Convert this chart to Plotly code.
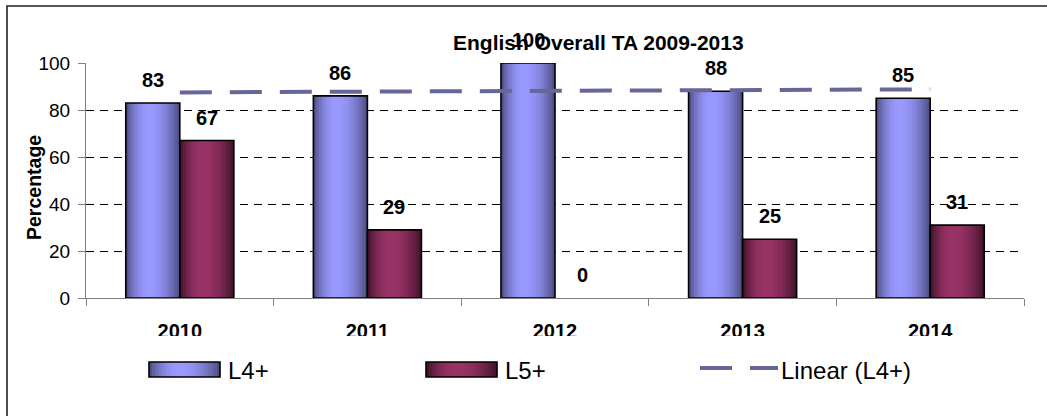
import math
import plotly.graph_objects as go

# ---------------- data ----------------
years = ["2010", "2011", "2012", "2013", "2014"]
l4_values = [83, 86, 100, 88, 85]
l5_values = [67, 29, 0, 25, 31]
trend_years = ["2010", "2014"]
trend_values = [87.5, 88.8]
series_names = ["L4+", "L5+", "Linear (L4+)"]
y_ticks = [0, 20, 40, 60, 80, 100]

# ---------------- layout constants ----------------
W, H = 1047, 416
L, R, T, B = 86, 1024, 63, 298
FONT = "Liberation Sans, Arial, sans-serif"
BAR_W = 0.288
NSLICE = 20


def px(x):
    return (x - L) / (R - L)


def py(y):
    return (B - y) / (B - T)


def grad_color(t, light, dark, peak=0.42):
    d = (peak - t) / peak if t < peak else (t - peak) / (1 - peak)
    g = math.cos(math.pi / 2 * min(d, 1.0)) ** 0.8
    c = [dark[k] + (light[k] - dark[k]) * g for k in range(3)]
    return "rgb(%d,%d,%d)" % tuple(int(round(v)) for v in c)


L4_LIGHT, L4_DARK = (153, 153, 255), (70, 70, 118)
L5_LIGHT, L5_DARK = (153, 51, 102), (58, 16, 38)

fig = go.Figure()

for vals, off0, light, dark in [
    (l4_values, -BAR_W, L4_LIGHT, L4_DARK),
    (l5_values, 0.0, L5_LIGHT, L5_DARK),
]:
    dw = BAR_W / NSLICE
    for i in range(NSLICE):
        t = (i + 0.5) / NSLICE
        fig.add_trace(go.Bar(
            x=years, y=vals,
            offset=off0 + i * dw, width=BAR_W - i * dw,
            marker=dict(color=grad_color(t, light, dark), line=dict(width=0)),
            showlegend=False, hoverinfo="skip",
        ))
    fig.add_trace(go.Bar(
        x=years, y=vals, offset=off0, width=BAR_W,
        marker=dict(color="rgba(0,0,0,0)",
                    line=dict(color="black", width=[1.6 if v > 0 else 0 for v in vals])),
        showlegend=False, hoverinfo="skip",
    ))

fig.add_trace(go.Scatter(
    x=trend_years, y=trend_values, mode="lines",
    line=dict(color="#666699", width=4, dash="32px,18px"),
    showlegend=False, hoverinfo="skip",
))

annotations = []
for vals, xs in [(l4_values, -27), (l5_values, 27)]:
    for idx, v in enumerate(vals):
        annotations.append(dict(
            x=idx, y=v, xref="x", yref="y", text=str(v), showarrow=False,
            xshift=xs, yshift=23, yanchor="middle",
            font=dict(family=FONT, size=20, color="black", weight="bold"),
        ))

annotations.append(dict(
    x=px(598), y=py(42), xref="paper", yref="paper",
    text="English Overall TA 2009-2013", showarrow=False,
    xanchor="center", yanchor="middle",
    font=dict(family=FONT, size=21, color="black", weight="bold"),
))
annotations.append(dict(
    x=px(34), y=py(188), xref="paper", yref="paper", text="Percentage",
    showarrow=False, textangle=-90, xanchor="center", yanchor="middle",
    font=dict(family=FONT, size=19.5, color="black", weight="bold"),
))

shapes = []
# outer frame
shapes.append(dict(type="rect", xref="paper", yref="paper",
                   x0=px(7), x1=px(1070), y0=py(6), y1=py(440),
                   line=dict(color="#222222", width=1.6), layer="below"))
# cover lower part of category labels (clipped in reference)
shapes.append(dict(type="rect", xref="paper", yref="paper",
                   x0=px(60), x1=px(1040), y0=py(352), y1=py(336),
                   fillcolor="white", line=dict(width=0), layer="above"))

# legend swatches
for (x0, x1), light, dark, name in [((149, 220), L4_LIGHT, L4_DARK, series_names[0]),
                                    ((426, 497), L5_LIGHT, L5_DARK, series_names[1])]:
    n = 24
    for i in range(n):
        t = (i + 0.5) / n
        sx0 = x0 + (x1 - x0) * i / n
        shapes.append(dict(type="rect", xref="paper", yref="paper",
                           x0=px(sx0), x1=px(x1), y0=py(377), y1=py(362),
                           fillcolor=grad_color(t, light, dark),
                           line=dict(width=0), layer="above"))
    shapes.append(dict(type="rect", xref="paper", yref="paper",
                       x0=px(x0), x1=px(x1), y0=py(377), y1=py(362),
                       line=dict(color="black", width=1.6), layer="above"))
    annotations.append(dict(x=px(x1 + 6), y=py(370), xref="paper", yref="paper",
                            text=name, showarrow=False, xanchor="left", yanchor="middle",
                            font=dict(family=FONT, size=24, color="black")))

shapes.append(dict(type="line", xref="paper", yref="paper",
                   x0=px(700), x1=px(778), y0=py(368), y1=py(368),
                   line=dict(color="#666699", width=4, dash="32px,18px"), layer="above"))
annotations.append(dict(x=px(779), y=py(370), xref="paper", yref="paper",
                        text=series_names[2], showarrow=False, xanchor="left", yanchor="middle",
                        font=dict(family=FONT, size=24, color="black")))

fig.update_layout(
    width=W, height=H,
    margin=dict(l=L, r=W - R, t=T, b=H - B, pad=0, autoexpand=False),
    paper_bgcolor="white", plot_bgcolor="white",
    barmode="overlay", showlegend=False,
    font=dict(family=FONT, color="black"),
    annotations=annotations, shapes=shapes,
)
fig.update_xaxes(
    type="category", categoryorder="array", categoryarray=years,
    range=[-0.5, len(years) - 0.5], automargin=False,
    showline=True, linecolor="#808080", linewidth=1,
    ticks="outside", tickson="boundaries", ticklen=7, tickcolor="#808080",
    showgrid=False, zeroline=False,
    tickfont=dict(family=FONT, size=20, color="black", weight="bold"),
    ticklabelstandoff=15,
)
fig.update_yaxes(
    range=[0, 100], tickvals=y_ticks, automargin=False,
    showline=True, linecolor="#808080", linewidth=1,
    ticks="outside", ticklen=7, tickcolor="#808080",
    showgrid=True, gridcolor="black", gridwidth=1, griddash="8px,6px",
    zeroline=False, ticklabelstandoff=4,
    tickfont=dict(family=FONT, size=19, color="black"),
)

fig.write_html("out.html", config={"displayModeBar": False},
               post_script="document.body.style.margin='0px';")
